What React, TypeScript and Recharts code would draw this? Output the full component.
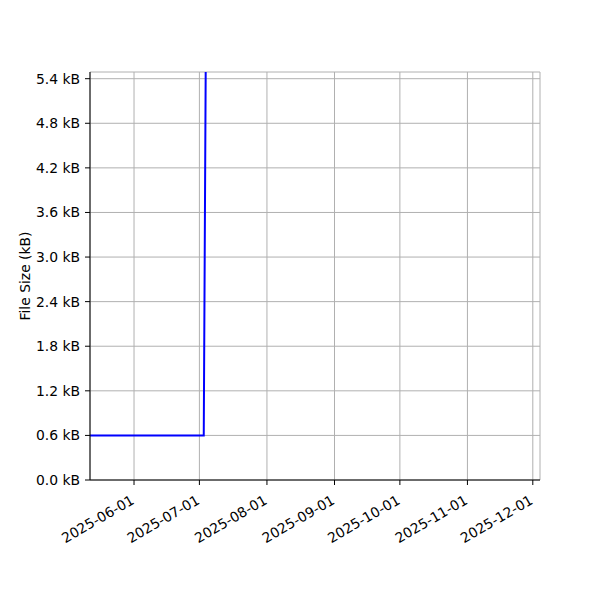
import { LineChart, Line, XAxis, YAxis, CartesianGrid } from "recharts";

// Data (values after the jump run off the top of the plot)
const dates = ["2025-05-01", "2025-07-03", "2025-07-04", "2025-08-15", "2025-10-01", "2025-11-25"];
const sizesKB = [0.6, 0.6, 6.1, 8.0, 9.5, 12.0];

const yTicks = [0, 0.6, 1.2, 1.8, 2.4, 3.0, 3.6, 4.2, 4.8, 5.4];
const xTickLabels = ["2025-06-01", "2025-07-01", "2025-08-01", "2025-09-01", "2025-10-01", "2025-11-01", "2025-12-01"];

const toTs = (s: string) => {
  const [y, m, d] = s.split("-").map(Number);
  return Date.UTC(y, m - 1, d);
};

const DAY = 86400000;
const xDomain = [toTs("2025-05-11") + 0.8 * DAY, toTs("2025-12-04") + 0.3 * DAY];
const yDomain = [0, 5.49];

const data = dates.map((d, i) => ({ t: toTs(d), size: sizesKB[i] }));
const xTicks = xTickLabels.map(toTs);

const FONT = "DejaVu Sans, sans-serif";
const FS = 13.9;

const fmtDate = (ts: number) => new Date(ts).toISOString().slice(0, 10);

function DateTick(props: any) {
  const { x, y, payload } = props;
  const tx = x - 4;
  const ty = y + 7;
  return (
    <text
      x={tx}
      y={ty}
      transform={`rotate(-30, ${tx}, ${ty})`}
      textAnchor="end"
      dominantBaseline="hanging"
      fontSize={FS}
      fontFamily={FONT}
      fill="#000"
    >
      {fmtDate(payload.value)}
    </text>
  );
}

export default function App() {
  return (
    <div style={{ position: "absolute", left: 0, top: 0, width: 600, height: 600, background: "#fff" }}>
      <LineChart width={600} height={600} data={data} margin={{ top: 72, right: 60, bottom: 0, left: 0 }}>
        <CartesianGrid stroke="#b0b0b0" strokeWidth={1} />
        <XAxis
          dataKey="t"
          type="number"
          scale="time"
          domain={xDomain}
          allowDataOverflow
          ticks={xTicks}
          interval={0}
          height={120}
          tick={<DateTick />}
          tickSize={5}
          axisLine={{ stroke: "#000" }}
          tickLine={{ stroke: "#000" }}
        />
        <XAxis xAxisId="top" orientation="top" dataKey="t" type="number" domain={xDomain} height={0} tick={false} tickLine={false} axisLine={{ stroke: "#000" }} />
        <YAxis
          domain={yDomain}
          allowDataOverflow
          ticks={yTicks}
          interval={0}
          width={90}
          tickSize={5}
          tickFormatter={(v: number) => `${v.toFixed(1)} kB`}
          tick={{ fontSize: FS, fontFamily: FONT, fill: "#000", dx: -3 }}
          axisLine={{ stroke: "#000" }}
          tickLine={{ stroke: "#000" }}
          label={{ value: "File Size (kB)", angle: -90, position: "insideLeft", offset: 25, style: { fontSize: FS, fontFamily: FONT, fill: "#000", textAnchor: "middle" } }}
        />
        <YAxis yAxisId="right" orientation="right" domain={yDomain} width={0} tick={false} tickLine={false} axisLine={{ stroke: "#000" }} />
        <Line
          dataKey="size"
          type="linear"
          stroke="#0000ff"
          strokeWidth={2}
          dot={false}
          isAnimationActive={false}
        />
      </LineChart>
    </div>
  );
}
